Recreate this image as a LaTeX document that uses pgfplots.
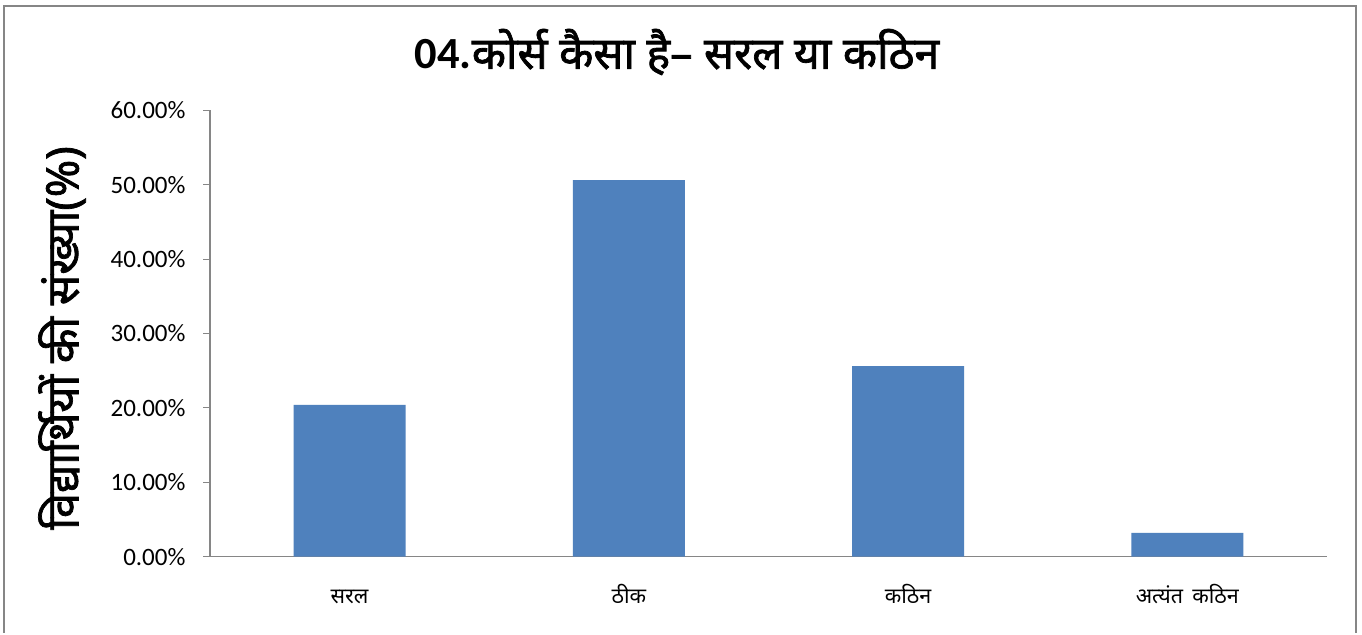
\documentclass[border=0pt]{standalone}
\usepackage{fontspec}
\setmainfont{Carlito}
\newfontfamily\deva[Script=Devanagari]{Noto Sans}
\newfontfamily\devab[Script=Devanagari,FakeBold=1.6]{Noto Sans}
\usepackage{pgfplots}
\pgfplotsset{compat=1.18}
\definecolor{barblue}{HTML}{4F81BD}
\definecolor{axgray}{HTML}{868686}
\begin{document}
\begin{tikzpicture}
\fill[white] (0pt,0pt) rectangle (1362pt,633pt);
\draw[axgray, line width=2.2pt] (4pt,0pt) -- (4pt,627pt) -- (1356pt,627pt) -- (1356pt,0pt);
\begin{axis}[
  at={(210pt,76.3pt)}, anchor=south west,
  scale only axis, width=1117pt, height=446.4pt,
  xmin=-0.5, xmax=3.5, ymin=0, ymax=60,
  ybar, bar width=112pt,
  axis lines*=left,
  axis line style={axgray, line width=1.2pt},
  ytick={0,10,20,30,40,50,60},
  yticklabel={\pgfmathprintnumber[fixed,fixed zerofill,precision=2]{\tick}\%},
  /pgf/number format/assume math mode=true,
  yticklabel style={font=\fontsize{25}{30}\selectfont, xshift=-14pt},
  ytick style={axgray, line width=1.2pt},
  major tick length=7pt, tick align=outside,
  xtick={0,1,2,3},
  xticklabels={सरल, ठीक, कठिन, अत्यंत\ \,कठिन},
  xticklabel style={font=\deva\fontsize{21.5}{26}\selectfont, anchor=base, yshift=-40pt},
  xtick style={draw=none},
]
\addplot[fill=barblue, draw=none] coordinates {(0,20.4) (1,50.6) (2,25.6) (3,3.2)};
\end{axis}
\node at (677pt,581pt) {\fontsize{44.5}{50}\selectfont\bfseries 04.{\devab कोर्स कैसा है– सरल या कठिन}};
\node[rotate=90] at (62pt,295pt) {\devab\fontsize{45}{50}\selectfont विद्यार्थियों की संख्या(\%)};
\end{tikzpicture}
\end{document}
